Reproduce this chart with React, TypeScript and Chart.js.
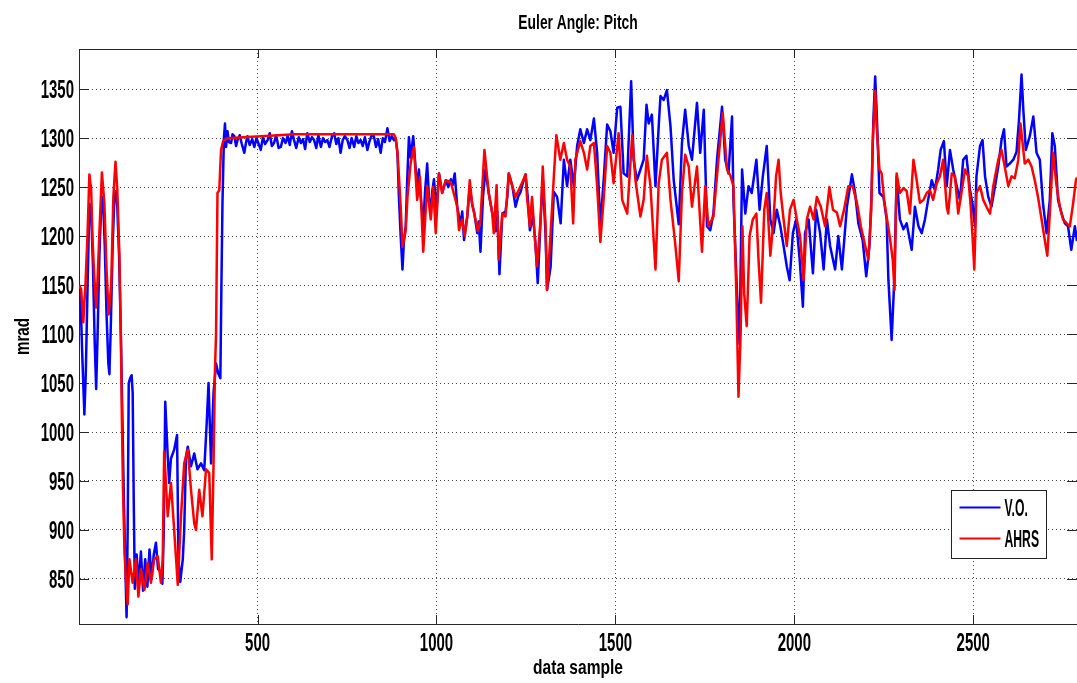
import React, { useEffect, useRef } from "react";
import { Chart, registerables } from "chart.js";

Chart.register(...registerables);

// ---------- data (sample index, mrad) ----------
const voSeries: number[][] = [
  [1,1150],[5,1140],[10,1080],[16,1018],[20,1060],[25,1150],[30,1233],[35,1225],[40,1170],[45,1090],
  [49,1044],[53,1100],[58,1180],[64,1240],[68,1240],[73,1190],[78,1120],[83,1070],[86,1059],[90,1110],
  [95,1190],[100,1240],[104,1246],[108,1230],[113,1180],[118,1100],[122,1020],[126,940],[130,870],[134,811],
  [137,900],[140,1050],[144,1055],[148,1058],[151,1040],[154,930],[157,840],
  [162,875],[168,845],[174,878],[180,838],[186,870],[192,842],[198,880],[204,850],[210,875],[216,887],
  [222,860],[228,858],[234,845],
  [238,900],[242,1031],[249,975],[253,948],[258,973],[267,982],[275,997],[279,870],[284,847],[291,870],
  [295,900],[300,975],[305,985],[314,965],[323,978],[332,962],[342,968],[351,961],[358,1010],[363,1050],
  [370,968],[377,1040],[384,1070],[390,1060],[396,1055],[399,1150],[402,1235],[406,1300],
  [409,1315],[412,1291],[416,1307],[420,1296],[426,1295],[430,1304],[435,1302],[440,1292],[444,1298],[450,1303],
  [456,1294],[463,1285],[468,1296],[472,1302],[478,1293],[485,1299],[491,1291],[497,1300],[503,1294],[509,1288],
  [515,1301],[521,1294],[528,1298],[534,1305],[540,1292],[546,1295],[552,1303],[559,1290],[565,1291],[571,1300],
  [578,1295],[584,1302],[590,1293],[596,1307],[602,1298],[608,1290],[615,1301],[621,1295],[627,1299],[633,1289],
  [639,1305],[646,1296],[652,1301],[658,1298],[664,1290],[670,1303],[677,1291],[683,1300],[689,1296],[695,1298],
  [701,1291],[708,1302],[714,1305],[720,1294],[726,1300],[732,1285],[738,1298],[744,1302],[751,1298],[757,1290],
  [763,1300],[770,1291],[776,1302],[782,1295],[788,1298],[794,1292],[800,1301],[807,1288],[813,1297],[819,1303],
  [825,1302],[831,1291],[837,1299],[844,1285],[850,1300],[856,1296],[863,1310],[869,1297],[875,1302],[881,1298],
  [886,1300],[891,1285],[895,1240],[900,1200],[905,1166],[909,1195],[914,1210],[918,1255],[923,1301],[928,1280],
  [935,1302],[942,1268],[946,1250],[951,1268],[956,1240],[963,1210],[968,1245],[974,1274],[979,1240],[984,1220],
  [988,1245],[993,1258],[1000,1225],[1007,1264],[1016,1244],[1026,1257],[1033,1250],[1040,1258],[1045,1252],[1051,1264],
  [1058,1230],[1067,1212],[1072,1225],[1077,1196],[1086,1220],[1093,1250],[1100,1232],[1105,1225],[1114,1203],[1118,1215],
  [1123,1184],[1130,1240],[1137,1268],[1146,1244],[1156,1223],[1165,1205],[1170,1225],[1176,1161],[1184,1223],[1193,1225],
  [1198,1240],[1202,1264],[1212,1251],[1221,1230],[1228,1240],[1235,1245],[1242,1255],[1249,1263],[1255,1240],[1261,1206],
  [1270,1220],[1277,1190],[1283,1152],[1291,1217],[1297,1260],[1305,1200],[1309,1145],[1319,1169],[1328,1245],[1337,1240],
  [1347,1213],[1356,1278],[1365,1251],[1374,1278],[1384,1251],[1393,1292],[1402,1309],[1412,1295],[1421,1309],[1430,1298],
  [1440,1320],[1449,1285],[1458,1210],[1467,1256],[1477,1314],[1486,1307],[1495,1285],[1505,1331],[1514,1332],[1523,1264],
  [1533,1261],[1544,1358],[1551,1278],[1560,1257],[1570,1268],[1579,1278],[1587,1334],[1593,1315],[1602,1324],[1612,1251],
  [1621,1312],[1626,1343],[1635,1339],[1644,1349],[1654,1312],[1663,1257],[1677,1212],[1686,1295],[1695,1329],[1705,1292],
  [1714,1278],[1728,1336],[1737,1285],[1747,1329],[1756,1210],[1765,1206],[1774,1223],[1784,1278],[1798,1332],[1807,1278],
  [1816,1264],[1826,1322],[1830,1236],[1840,1141],[1847,1090],[1854,1268],[1863,1223],[1872,1251],[1881,1244],[1894,1278],
  [1903,1227],[1912,1261],[1923,1292],[1933,1217],[1942,1203],[1951,1227],[1961,1210],[1970,1190],[1979,1169],[1987,1155],
  [1996,1203],[2005,1217],[2015,1176],[2024,1128],[2030,1203],[2040,1217],[2052,1162],[2061,1227],[2072,1203],[2082,1166],
  [2091,1217],[2100,1190],[2114,1166],[2123,1200],[2133,1166],[2147,1230],[2161,1263],[2170,1244],[2179,1213],[2191,1196],
  [2201,1159],[2210,1190],[2216,1244],[2221,1319],[2226,1363],[2230,1329],[2238,1244],[2249,1240],[2258,1217],[2263,1155],
  [2272,1094],[2279,1152],[2286,1261],[2295,1217],[2305,1207],[2314,1213],[2328,1186],[2337,1230],[2347,1210],[2356,1203],
  [2365,1217],[2374,1237],[2384,1257],[2393,1247],[2402,1268],[2409,1288],[2418,1297],[2426,1251],[2435,1288],[2444,1268],
  [2454,1251],[2463,1237],[2472,1278],[2481,1282],[2491,1247],[2498,1233],[2505,1210],[2509,1261],[2519,1292],[2526,1298],
  [2533,1261],[2542,1240],[2551,1230],[2561,1251],[2570,1271],[2579,1298],[2586,1309],[2593,1271],[2602,1274],[2612,1278],
  [2621,1286],[2628,1319],[2635,1365],[2640,1329],[2647,1288],[2658,1302],[2668,1322],[2677,1285],[2686,1278],[2695,1233],
  [2705,1203],[2714,1237],[2721,1305],[2728,1292],[2737,1237],[2747,1223],[2756,1213],[2765,1210],[2774,1186],[2784,1210],
  [2790,1195],
];

const ahrsSeries: number[][] = [
  [1,1150],[7,1146],[13,1112],[19,1150],[25,1203],[30,1263],[35,1248],[39,1195],[44,1157],[49,1127],
  [53,1157],[58,1203],[65,1265],[72,1233],[78,1165],[84,1120],[91,1150],[97,1240],[103,1276],[108,1248],
  [114,1180],[118,1097],[121,1010],[124,941],[128,880],[132,850],[137,824],[142,870],[151,846],[160,870],
  [167,832],[174,860],[184,839],[193,866],[202,846],[211,870],[221,873],[230,846],[235,870],[239,980],
  [249,914],[258,948],[267,900],[277,844],[286,914],[295,968],[305,982],[314,941],[323,907],[328,900],
  [337,941],[346,914],[356,962],[365,958],[372,870],[377,968],[381,1064],[384,1100],[388,1244],[393,1247],
  [398,1288],[404,1297],[416,1300],[460,1301],[509,1302],[560,1303],[602,1304],[700,1304],[800,1304],[881,1304],
  [886,1300],[891,1285],[895,1261],[900,1230],[905,1189],[909,1196],[914,1206],[919,1240],[928,1275],[937,1291],
  [946,1237],[954,1260],[963,1184],[974,1251],[984,1217],[991,1250],[998,1203],[1007,1264],[1016,1244],[1026,1257],
  [1040,1255],[1051,1240],[1058,1230],[1063,1206],[1072,1217],[1079,1200],[1086,1220],[1093,1257],[1100,1232],[1109,1217],
  [1116,1205],[1123,1217],[1134,1288],[1146,1244],[1156,1223],[1160,1203],[1168,1252],[1174,1176],[1184,1223],[1193,1220],
  [1202,1264],[1212,1251],[1221,1240],[1235,1251],[1249,1263],[1253,1240],[1261,1210],[1267,1240],[1274,1203],[1281,1169],
  [1291,1217],[1297,1271],[1305,1210],[1309,1145],[1319,1203],[1328,1261],[1335,1303],[1346,1278],[1356,1295],[1365,1278],
  [1374,1271],[1382,1213],[1388,1278],[1402,1297],[1412,1285],[1421,1268],[1430,1292],[1440,1295],[1449,1251],[1458,1194],
  [1467,1237],[1477,1292],[1486,1285],[1495,1254],[1509,1305],[1519,1237],[1533,1223],[1547,1303],[1556,1257],[1570,1220],
  [1579,1237],[1588,1282],[1598,1251],[1612,1166],[1621,1254],[1630,1278],[1644,1285],[1654,1237],[1667,1193],[1677,1154],
  [1686,1244],[1695,1283],[1705,1271],[1714,1230],[1728,1271],[1742,1184],[1751,1251],[1760,1210],[1774,1220],[1788,1278],
  [1800,1326],[1812,1268],[1821,1262],[1830,1251],[1838,1141],[1844,1036],[1850,1100],[1855,1210],[1860,1141],[1867,1108],
  [1875,1200],[1884,1217],[1894,1223],[1900,1176],[1907,1132],[1916,1227],[1923,1244],[1933,1180],[1942,1217],[1949,1261],
  [1956,1278],[1962,1244],[1970,1217],[1979,1190],[1988,1227],[1998,1237],[2007,1217],[2016,1200],[2026,1155],[2035,1217],
  [2044,1230],[2054,1217],[2063,1240],[2074,1230],[2086,1210],[2098,1250],[2108,1227],[2119,1224],[2128,1210],[2139,1227],
  [2151,1251],[2163,1251],[2175,1234],[2186,1210],[2198,1190],[2207,1176],[2215,1227],[2219,1295],[2226,1348],[2230,1312],
  [2238,1268],[2244,1264],[2251,1237],[2258,1220],[2268,1196],[2275,1176],[2280,1145],[2286,1264],[2295,1244],[2305,1249],
  [2314,1246],[2323,1223],[2333,1278],[2342,1257],[2351,1234],[2361,1237],[2370,1244],[2379,1247],[2388,1237],[2398,1254],
  [2407,1261],[2416,1278],[2426,1230],[2430,1223],[2440,1264],[2449,1261],[2458,1223],[2467,1244],[2477,1268],[2486,1261],
  [2493,1230],[2498,1200],[2503,1166],[2509,1244],[2519,1251],[2528,1237],[2537,1230],[2547,1223],[2556,1251],[2570,1278],
  [2579,1288],[2588,1271],[2598,1251],[2607,1261],[2616,1259],[2626,1278],[2632,1315],[2638,1295],[2644,1274],[2654,1278],
  [2663,1271],[2672,1257],[2681,1240],[2691,1217],[2700,1196],[2707,1180],[2714,1223],[2723,1285],[2733,1251],[2742,1230],
  [2751,1217],[2761,1213],[2770,1210],[2779,1233],[2787,1257],[2790,1260],
];

const seriesNames = ["V.O.", "AHRS"];
const xTickValues = [500, 1000, 1500, 2000, 2500];
const yTickValues = [850, 900, 950, 1000, 1050, 1100, 1150, 1200, 1250, 1300, 1350];
const xRange = [1, 2790];
const yRange = [804, 1391];
const titleText = "Euler Angle: Pitch";
const xTitle = "data sample";
const yTitle = "mrad";

// ---------- drawing helpers ----------
const FONT = "'Liberation Sans', Arial, sans-serif";

function drawText(
  ctx: CanvasRenderingContext2D,
  text: string,
  x: number,
  y: number,
  size: number,
  sx: number,
  align: CanvasTextAlign,
  rot = 0
) {
  ctx.save();
  ctx.translate(x, y);
  if (rot) ctx.rotate(rot);
  ctx.scale(sx, 1);
  ctx.font = `bold ${size}px ${FONT}`;
  ctx.textAlign = align;
  ctx.textBaseline = "alphabetic";
  ctx.fillStyle = "#000";
  ctx.fillText(text, 0, 0);
  ctx.restore();
}

const decorPlugin = {
  id: "matlabDecor",
  beforeDatasetsDraw(chart: any) {
    const { ctx, chartArea: ca, scales } = chart;
    const xs = scales.x;
    const ys = scales.y;
    ctx.save();
    ctx.strokeStyle = "#262626";
    ctx.lineWidth = 1;
    ctx.beginPath();
    ctx.moveTo(ca.left, Math.round(ca.top) + 0.5);
    ctx.lineTo(ca.right, Math.round(ca.top) + 0.5);
    for (const v of xTickValues) {
      const px = Math.round(xs.getPixelForValue(v)) + 0.5;
      ctx.moveTo(px, ca.bottom);
      ctx.lineTo(px, ca.bottom - 9);
      ctx.moveTo(px, ca.top);
      ctx.lineTo(px, ca.top + 9);
    }
    for (const v of yTickValues) {
      const py = Math.round(ys.getPixelForValue(v)) + 0.5;
      ctx.moveTo(ca.left, py);
      ctx.lineTo(ca.left + 10, py);
      ctx.moveTo(ca.right, py);
      ctx.lineTo(ca.right - 10, py);
    }
    ctx.stroke();
    ctx.restore();
  },
  afterDraw(chart: any) {
    const { ctx, chartArea: ca, scales } = chart;
    const xs = scales.x;
    const ys = scales.y;
    for (const v of yTickValues) {
      drawText(ctx, String(v), ca.left - 5, ys.getPixelForValue(v) + 9, 25, 0.6, "right");
    }
    for (const v of xTickValues) {
      drawText(ctx, String(v), xs.getPixelForValue(v), ca.bottom + 27, 25, 0.6, "center");
    }
    const cx = (ca.left + ca.right) / 2;
    drawText(ctx, titleText, cx, ca.top - 20, 21, 0.66, "center");
    drawText(ctx, xTitle, cx, ca.bottom + 50, 21, 0.74, "center");
    drawText(ctx, yTitle, ca.left - 50, (ca.top + ca.bottom) / 2, 21, 0.72, "center", -Math.PI / 2);

    const bw = 95;
    const bh = 68;
    const bx = Math.round(ca.right - 126) + 0.5;
    const by = Math.round(ca.bottom - 134) + 0.5;
    ctx.save();
    ctx.fillStyle = "#fff";
    ctx.fillRect(bx, by, bw, bh);
    ctx.strokeStyle = "#222";
    ctx.lineWidth = 1;
    ctx.strokeRect(bx, by, bw, bh);
    const colors = ["#0000ff", "#ff0000"];
    const rows = [by + 17, by + 48];
    for (let i = 0; i < 2; i++) {
      ctx.strokeStyle = colors[i];
      ctx.lineWidth = 2;
      ctx.beginPath();
      ctx.moveTo(bx + 8, rows[i]);
      ctx.lineTo(bx + 49, rows[i]);
      ctx.stroke();
      drawText(ctx, seriesNames[i], bx + 53, rows[i] + 8.5, 23, 0.53, "left");
    }
    ctx.restore();
  },
};

export default function App() {
  const canvasRef = useRef<HTMLCanvasElement | null>(null);

  useEffect(() => {
    document.body.style.margin = "0";
    const canvas = canvasRef.current;
    if (!canvas) return;
    const toPts = (s: number[][]) => s.map(([x, y]) => ({ x, y }));
    const chart = new Chart(canvas, {
      type: "line",
      data: {
        datasets: [
          {
            label: seriesNames[0],
            data: toPts(voSeries),
            borderColor: "#0000ff",
            borderWidth: 2.5,
            pointRadius: 0,
            tension: 0,
            borderJoinStyle: "round",
            order: 1,
          },
          {
            label: seriesNames[1],
            data: toPts(ahrsSeries),
            borderColor: "#ff0000",
            borderWidth: 2.5,
            pointRadius: 0,
            tension: 0,
            borderJoinStyle: "round",
            order: 0,
          },
        ],
      },
      options: {
        animation: false,
        responsive: false,
        devicePixelRatio: 1,
        layout: { padding: { left: 0, right: 0, top: 49, bottom: 0 } },
        plugins: {
          legend: { display: false },
          title: { display: false },
          tooltip: { enabled: false },
        },
        scales: {
          x: {
            type: "linear",
            min: xRange[0],
            max: xRange[1],
            afterBuildTicks: (scale: any) => {
              scale.ticks = xTickValues.map((v) => ({ value: v }));
            },
            afterFit: (scale: any) => {
              scale.height = 59;
            },
            ticks: { display: false },
            grid: { color: "#4a4a4a", lineWidth: 1, drawTicks: false },
            border: { display: true, color: "#262626", width: 1, dash: [1, 3] },
          },
          y: {
            type: "linear",
            min: yRange[0],
            max: yRange[1],
            afterBuildTicks: (scale: any) => {
              scale.ticks = yTickValues.map((v) => ({ value: v }));
            },
            afterFit: (scale: any) => {
              scale.width = 79;
            },
            ticks: { display: false },
            grid: { color: "#4a4a4a", lineWidth: 1, drawTicks: false },
            border: { display: true, color: "#262626", width: 1, dash: [1, 3] },
          },
        },
      } as any,
      plugins: [decorPlugin],
    });
    return () => chart.destroy();
  }, []);

  return (
    <div style={{ width: 1077, height: 683, background: "#fff" }}>
      <canvas ref={canvasRef} width={1077} height={683} style={{ display: "block" }} />
    </div>
  );
}
